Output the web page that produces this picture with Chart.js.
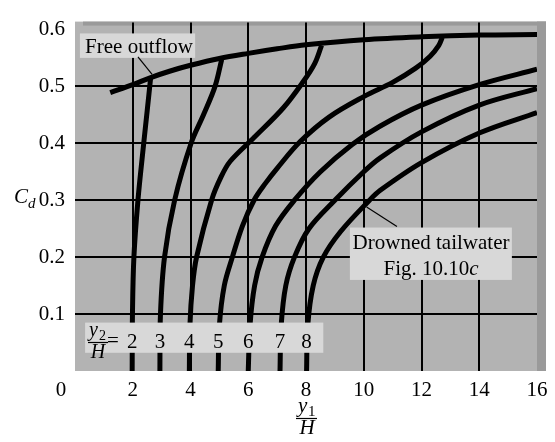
<!DOCTYPE html>
<html>
<head>
<meta charset="utf-8">
<script src="https://cdn.jsdelivr.net/npm/chart.js@4.4.1/dist/chart.umd.min.js"></script>
<style>
  html, body { margin: 0; padding: 0; background: #fff; }
  #wrap { width: 555px; height: 442px; }
</style>
</head>
<body>
<div id="wrap"><canvas id="myChart"></canvas></div>
<script>
// values: [y1/H, Cd]
const freeOutflow = [[1.22, 0.489], [2.0, 0.503], [2.6, 0.515], [3.3, 0.527], [4.0, 0.537], [5.0, 0.549],
    [6.0, 0.558], [7.0, 0.566], [8.0, 0.573], [10.0, 0.582], [12.0, 0.587], [14.0, 0.590], [16.0, 0.591]];

const drowned2 = [[1.98, 0], [1.99, 0.1], [2.04, 0.2], [2.18, 0.3], [2.38, 0.4], [2.5, 0.457], [2.62, 0.515]];
const drowned3 = [[2.94, 0], [2.96, 0.1], [3.1, 0.2], [3.45, 0.3], [4.02, 0.4], [4.45, 0.45], [4.85, 0.5],
    [5.08, 0.547]];
const drowned4 = [[3.96, 0], [3.98, 0.08], [4.07, 0.15], [4.21, 0.2], [4.73, 0.3], [5.05, 0.34], [5.37, 0.368],
    [6.2, 0.41], [7.21, 0.462], [7.9, 0.508], [8.3, 0.54], [8.54, 0.572]];
const drowned5 = [[4.96, 0], [5.0, 0.08], [5.17, 0.15], [5.45, 0.2], [5.8, 0.255], [6.2, 0.3], [6.6, 0.33],
    [7.0, 0.356], [7.8, 0.403], [8.8, 0.446], [10.0, 0.482], [11.0, 0.507], [11.8, 0.532], [12.3, 0.553],
    [12.6, 0.572], [12.72, 0.586]];
const drowned6 = [[6.0, 0], [6.06, 0.08], [6.22, 0.15], [6.48, 0.2], [6.95, 0.255], [7.6, 0.3], [8.5, 0.35],
    [9.6, 0.398], [10.56, 0.43], [12.0, 0.467], [14.0, 0.503], [16.0, 0.53]];
const drowned7 = [[7.1, 0], [7.14, 0.08], [7.3, 0.15], [7.6, 0.2], [8.1, 0.25], [9.0, 0.3], [10.0, 0.35],
    [10.56, 0.374], [12.0, 0.42], [14.0, 0.467], [16.0, 0.496]];
const drowned8 = [[8.02, 0], [8.06, 0.08], [8.25, 0.15], [8.6, 0.2], [9.2, 0.245], [10.2, 0.3], [10.56, 0.317],
    [12.0, 0.366], [14.0, 0.418], [16.0, 0.454]];

const y2HLabels = ['2', '3', '4', '5', '6', '7', '8'];
const drownedCurves = [drowned2, drowned3, drowned4, drowned5, drowned6, drowned7, drowned8];

const xTickValues = [0, 2, 4, 6, 8, 10, 12, 14, 16];
const yTickValues = [0.1, 0.2, 0.3, 0.4, 0.5, 0.6];

const serif = '"Liberation Serif", "Times New Roman", "DejaVu Serif", serif';
Chart.defaults.font.family = serif;
Chart.defaults.color = '#000';

const toPoints = arr => arr.map(([x, y]) => ({ x, y }));

const datasets = [{
    label: 'Free outflow',
    data: toPoints(freeOutflow),
}].concat(drownedCurves.map((c, i) => ({
    label: 'y2/H = ' + y2HLabels[i],
    data: toPoints(c),
})));

// grey background, text boxes, labels and axis titles
const figureDecor = {
    id: 'figureDecor',
    beforeDraw(chart) {
        const { ctx, chartArea: a } = chart;
        ctx.save();
        ctx.fillStyle = '#b3b3b3';
        ctx.fillRect(a.left, a.top - 1, a.right - a.left + 9, a.bottom - a.top + 1);
        ctx.fillStyle = '#9a9a9a';
        ctx.fillRect(a.right, a.top - 1, 9, a.bottom - a.top + 1);
        ctx.fillRect(a.left + 8, a.top - 1, a.right - a.left + 1, 4);
        ctx.restore();
    },
    afterDatasetsDraw(chart) {
        const { ctx, chartArea: a, scales: { x, y } } = chart;
        const px = v => x.getPixelForValue(v);
        const py = v => y.getPixelForValue(v);
        const box = (x0, y0, x1, y1) => ctx.fillRect(px(x0), py(y0), px(x1) - px(x0), py(y1) - py(y0));
        const line = (x0, y0, x1, y1) => {
            ctx.beginPath();
            ctx.moveTo(x0, y0);
            ctx.lineTo(x1, y1);
            ctx.stroke();
        };

        ctx.save();
        ctx.fillStyle = '#d8d8d8';
        box(0.17, 0.593, 4.16, 0.55);
        box(9.52, 0.252, 15.13, 0.16);
        box(0.35, 0.085, 8.6, 0.032);

        ctx.fillStyle = '#000';
        ctx.strokeStyle = '#000';
        ctx.lineWidth = 1.2;

        // Free outflow label
        ctx.font = '21px ' + serif;
        ctx.textAlign = 'left';
        ctx.textBaseline = 'alphabetic';
        ctx.fillText('Free outflow', px(0.35), py(0.559));
        line(px(2.18), py(0.552), px(2.67), py(0.521));

        // Drowned tailwater label
        ctx.textAlign = 'center';
        ctx.fillText('Drowned tailwater', px(12.33), py(0.215));
        const figTxt = 'Fig. 10.10';
        const w1 = ctx.measureText(figTxt).width;
        ctx.font = 'italic 21px ' + serif;
        const w2 = ctx.measureText('c').width;
        const fx = px(12.33) - (w1 + w2) / 2;
        ctx.textAlign = 'left';
        ctx.font = '21px ' + serif;
        ctx.fillText(figTxt, fx, py(0.169));
        ctx.font = 'italic 21px ' + serif;
        ctx.fillText('c', fx + w1, py(0.169));
        line(px(10.1), py(0.288), px(11.15), py(0.254));

        // y2/H = labels at the foot of each curve
        ctx.font = '21px ' + serif;
        ctx.textAlign = 'center';
        drownedCurves.forEach((c, i) => {
            ctx.fillText(y2HLabels[i], px(c[0][0]), py(0.041));
        });
        const lx = a.left + 14;
        ctx.textAlign = 'left';
        ctx.font = 'italic 20px ' + serif;
        ctx.fillText('y', lx, 336);
        ctx.font = '14px ' + serif;
        ctx.fillText('2', lx + 10, 340);
        line(lx - 1, 342.5, lx + 19, 342.5);
        ctx.font = 'italic 20px ' + serif;
        ctx.textAlign = 'center';
        ctx.fillText('H', lx + 9, 358);
        ctx.font = '21px ' + serif;
        ctx.textAlign = 'left';
        ctx.fillText('=', lx + 18, 347);

        // origin label
        ctx.textAlign = 'center';
        ctx.textBaseline = 'middle';
        ctx.fillText('0', a.left - 14, a.bottom + 19);

        // y axis title C_d
        ctx.textAlign = 'left';
        ctx.textBaseline = 'alphabetic';
        ctx.font = 'italic 21px ' + serif;
        ctx.fillText('C', 14, py(0.3) + 3);
        ctx.font = 'italic 15px ' + serif;
        ctx.fillText('d', 28, py(0.3) + 8);

        // x axis title y1/H
        const cx = (a.left + a.right) / 2;
        ctx.font = 'italic 21px ' + serif;
        ctx.fillText('y', cx - 8, 412);
        ctx.font = '15px ' + serif;
        ctx.fillText('1', cx + 2, 416);
        line(cx - 10, 418.5, cx + 11, 418.5);
        ctx.font = 'italic 21px ' + serif;
        ctx.textAlign = 'center';
        ctx.fillText('H', cx + 1, 434);
        ctx.restore();
    }
};

const config = {
    type: 'scatter',
    data: { datasets: datasets },
    options: {
        responsive: true,
        maintainAspectRatio: false,
        animation: false,
        layout: { padding: { top: 11, right: 18, left: 0, bottom: 0 } },
        elements: {
            point: { radius: 0, hoverRadius: 0 },
            line: { borderWidth: 5, borderColor: '#000', tension: 0.35, fill: false, borderJoinStyle: 'round' }
        },
        datasets: { scatter: { showLine: true, borderColor: '#000', borderWidth: 5 } },
        plugins: { legend: { display: false }, tooltip: { enabled: false } },
        scales: {
            x: {
                type: 'linear',
                min: 0,
                max: 16,
                afterBuildTicks: s => { s.ticks = xTickValues.map(v => ({ value: v })); },
                afterFit: s => { s.height = 71; },
                border: { display: false },
                grid: {
                    drawTicks: false,
                    lineWidth: 2,
                    color: c => (c.tick && (c.tick.value === 0 || c.tick.value === 16)) ? 'rgba(0,0,0,0)' : '#000'
                },
                ticks: {
                    padding: 7,
                    font: { size: 21 },
                    color: '#000',
                    callback: v => v === 0 ? '' : String(v)
                }
            },
            y: {
                type: 'linear',
                min: 0,
                max: 0.612,
                afterBuildTicks: s => { s.ticks = yTickValues.map(v => ({ value: v })); },
                afterFit: s => { s.width = 75; },
                border: { display: false },
                grid: {
                    drawTicks: false,
                    lineWidth: 2,
                    color: c => (c.tick && c.tick.value > 0.55) ? 'rgba(0,0,0,0)' : '#000'
                },
                ticks: {
                    padding: 10,
                    font: { size: 21 },
                    color: '#000',
                    callback: v => v.toFixed(1)
                }
            }
        }
    },
    plugins: [figureDecor]
};

new Chart(document.getElementById('myChart'), config);
</script>
</body>
</html>
